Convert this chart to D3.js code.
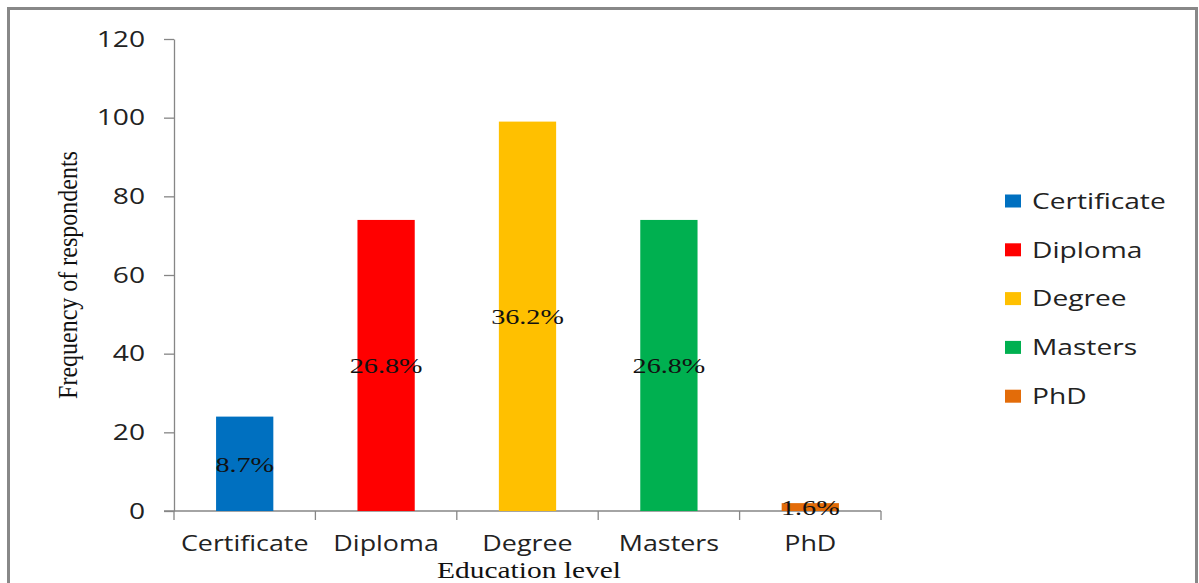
<!DOCTYPE html>
<html>
<head>
<meta charset="utf-8">
<script src="https://cdn.jsdelivr.net/npm/d3@7"></script>
<style>
  body { margin: 0; background: #fff; }
  svg { display: block; }
</style>
</head>
<body>
<svg id="chart" width="1199" height="583"></svg>
<script>
var categories = ["Certificate", "Diploma", "Degree", "Masters", "PhD"];
var counts     = [24, 74, 99, 74, 2];
var percents   = ["8.7%", "26.8%", "36.2%", "26.8%", "1.6%"];
var colours    = ["#0070c0", "#ff0000", "#ffc000", "#00b050", "#e36c09"];
var yTicks     = [0, 20, 40, 60, 80, 100, 120];

// the original picture is stretched sideways, so text is too
var SX = 1.28;
function place(x, y) { return "translate(" + x + "," + y + ") scale(" + SX + ",1)"; }

var svg = d3.select("#chart");

// outer frame (bottom is cut off in the original)
svg.append("path")
    .attr("d", "M8.5,600 V8.5 H1196.5 V600")
    .attr("fill", "none").attr("stroke", "#888").attr("stroke-width", 3);

var scX = d3.scaleBand().domain(categories).range([174, 881]).padding(0),
    scY = d3.scaleLinear().domain([0, 120]).range([511, 39]);

// y axis
var yAx = svg.append("g").attr("transform", "translate(174,0)")
    .call(d3.axisLeft(scY).tickValues(yTicks).tickSize(10).tickSizeOuter(0));
yAx.select(".domain").attr("stroke", "#868686").attr("stroke-width", 1.3);
yAx.selectAll(".tick line").attr("stroke", "#868686").attr("stroke-width", 1.3);
yAx.selectAll(".tick text")
    .attr("x", null).attr("transform", place(-29, 0))
    .attr("fill", "#222")
    .style("font-family", "'Open Sans'").style("font-size", "22px");

// x axis: ticks at band edges
var xAx = svg.append("g").attr("transform", "translate(0,511)");
xAx.append("line").attr("x1", 164).attr("x2", 881).attr("stroke", "#868686").attr("stroke-width", 1.3);
var edges = categories.map(c => scX(c)).concat([scX.range()[1]]);
xAx.selectAll("line.tk").data(edges).enter().append("line").attr("class", "tk")
    .attr("x1", d => d).attr("x2", d => d).attr("y1", 0).attr("y2", 9)
    .attr("stroke", "#868686").attr("stroke-width", 1.3);
xAx.selectAll("text").data(categories).enter().append("text")
    .attr("transform", d => place(scX(d) + scX.bandwidth() / 2, 40))
    .attr("text-anchor", "middle").attr("fill", "#222")
    .style("font-family", "'Open Sans'").style("font-size", "21px")
    .text(d => d);

// bars
var barW = scX.bandwidth() * 0.405;
svg.selectAll("rect.bar").data(categories).enter().append("rect").attr("class", "bar")
    .attr("x", d => scX(d) + (scX.bandwidth() - barW) / 2)
    .attr("width", barW)
    .attr("y", (d, i) => scY(counts[i]))
    .attr("height", (d, i) => scY(0) - scY(counts[i]))
    .attr("fill", (d, i) => colours[i]);

// percentage labels in middle of bars
svg.selectAll("text.pct").data(categories).enter().append("text").attr("class", "pct")
    .attr("transform", (d, i) => place(scX(d) + scX.bandwidth() / 2, (scY(counts[i]) + scY(0)) / 2))
    .attr("dy", "0.35em").attr("text-anchor", "middle").attr("fill", "#111")
    .style("font-family", "'Liberation Serif'").style("font-size", "22px")
    .text((d, i) => percents[i]);

// axis titles
svg.append("text")
    .attr("transform", "translate(77,275) scale(1.15,1) rotate(-90)")
    .attr("text-anchor", "middle").attr("fill", "#111")
    .style("font-family", "'Liberation Serif'").style("font-size", "24px")
    .text("Frequency of respondents");
svg.append("text")
    .attr("transform", place(529, 578))
    .attr("text-anchor", "middle").attr("fill", "#111")
    .style("font-family", "'Liberation Serif'").style("font-size", "23px")
    .text("Education level");

// legend
var lg = svg.selectAll("g.lg").data(categories).enter().append("g").attr("class", "lg")
    .attr("transform", (d, i) => "translate(1005," + (201 + i * 48.8) + ")");
lg.append("rect").attr("x", 0).attr("y", -6.5).attr("width", 16).attr("height", 13)
    .attr("fill", (d, i) => colours[i]);
lg.append("text").attr("transform", place(27, 0)).attr("dy", "0.35em").attr("fill", "#222")
    .style("font-family", "'Open Sans'").style("font-size", "22px")
    .text(d => d);
</script>
</body>
</html>
